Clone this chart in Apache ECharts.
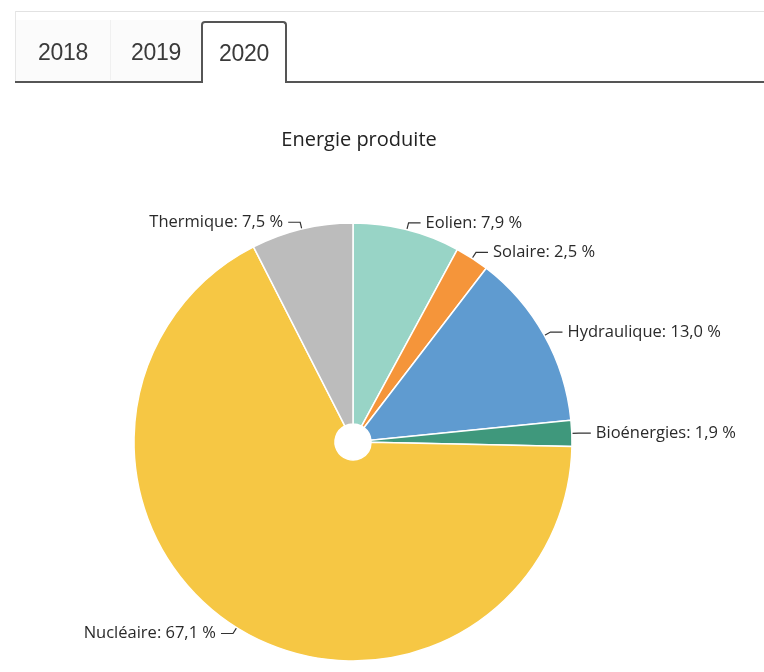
<!DOCTYPE html>
<html>
<head>
<meta charset="utf-8">
<script src="https://cdn.jsdelivr.net/npm/echarts@6/dist/echarts.min.js"></script>
<style>
html,body{margin:0;padding:0;background:#fff;}
#wrap{position:relative;width:764px;height:672px;overflow:hidden;}
#chart{position:absolute;left:0;top:0;width:764px;height:672px;}
.topline{position:absolute;left:15px;top:11px;width:749px;height:1px;background:#e2e2e2;}
.leftline{position:absolute;left:15px;top:11px;width:1px;height:71px;background:#e6e6e6;}
.divline{position:absolute;left:110px;top:20px;width:1px;height:60px;background:#f0f0f0;}
.baseline{position:absolute;top:81px;height:2px;background:#555;}
.tab{position:absolute;top:20px;height:61px;line-height:64px;font-family:"Liberation Sans",Arial,sans-serif;font-size:23px;color:#3a3a3a;text-align:center;letter-spacing:-0.3px;}
.tab.in{background:#fbfbfb;}
.tab.active{top:21px;height:62px;line-height:61px;border:2px solid #555;border-bottom:none;border-radius:4px 4px 0 0;background:#fff;box-sizing:border-box;}
</style>
</head>
<body>
<div id="wrap">
<div id="chart"></div>
<div class="topline"></div>
<div class="leftline"></div>
<div id="tabs"></div>
<div class="divline"></div>
<div class="baseline" style="left:15px;width:187px;"></div>
<div class="baseline" style="left:285px;width:479px;"></div>
</div>
<script>
var years = ["2018", "2019", "2020"];
var activeYear = "2020";
var chartTitle = "Energie produite";
var categories = ["Eolien", "Solaire", "Hydraulique", "Bioénergies", "Nucléaire", "Thermique"];
var values = [7.9, 2.5, 13.0, 1.9, 67.1, 7.5];
var colors = ["#98d4c6", "#f5953a", "#5f9bd0", "#3f987c", "#f6c744", "#bcbcbc"];

var tabPos = [[16, 94], [111, 90], [201, 86]];
var tabsEl = document.getElementById('tabs');
years.forEach(function (y, i) {
  var d = document.createElement('div');
  d.className = 'tab ' + (y === activeYear ? 'active' : 'in');
  d.style.left = tabPos[i][0] + 'px';
  d.style.width = tabPos[i][1] + 'px';
  d.textContent = y;
  tabsEl.appendChild(d);
});

var chart = echarts.init(document.getElementById('chart'), null, {renderer: 'canvas'});
var data = categories.map(function (c, i) {
  return {name: c, value: values[i], itemStyle: {color: colors[i]}};
});
chart.setOption({
  animation: false,
  title: {
    text: chartTitle,
    left: 354, top: 125, textAlign: 'center',
    textStyle: {fontFamily: 'Open Sans', fontSize: 20, fontWeight: 'normal', color: '#222'}
  },
  series: [{
    type: 'pie',
    center: [353, 442],
    radius: [18, 219],
    startAngle: 90,
    clockwise: true,
    data: data,
    itemStyle: {borderColor: '#fff', borderWidth: 1.5},
    label: {
      show: true,
      fontFamily: 'Open Sans',
      fontSize: 16.5,
      color: '#2a2a2a',
      formatter: function (p) {
        return p.name + ': ' + p.value.toFixed(1).replace('.', ',') + ' %';
      }
    },
    labelLine: {show: true, length: 7, length2: 12, lineStyle: {color: '#333', width: 1.2}}
  }]
});
</script>
</body>
</html>
